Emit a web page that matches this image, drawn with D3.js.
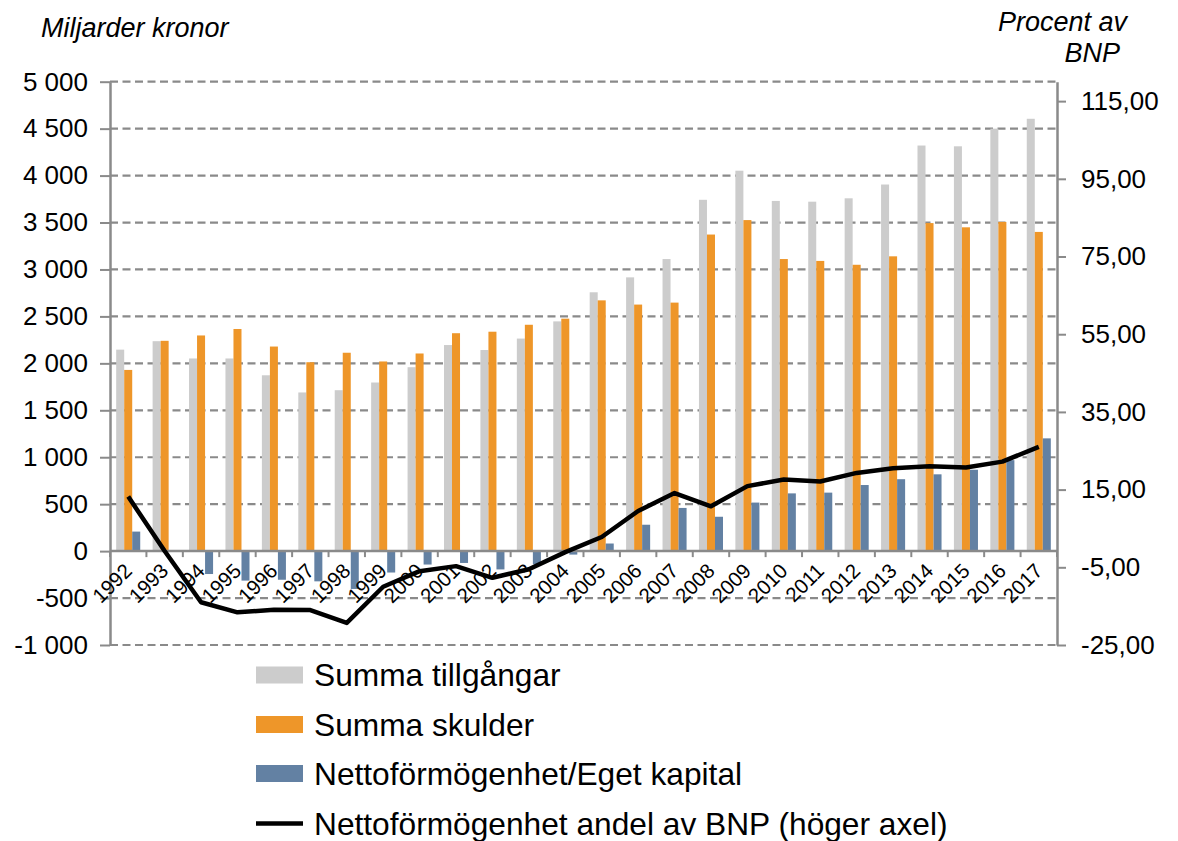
<!DOCTYPE html>
<html>
<head>
<meta charset="utf-8">
<script src="https://cdn.jsdelivr.net/npm/d3@7"></script>
<style>
  html, body { margin: 0; padding: 0; background: #fff; }
  svg { display: block; }
  text { font-family: "Liberation Sans", Arial, sans-serif; fill: #000; }
</style>
</head>
<body>
<svg id="chart" width="1178" height="841"></svg>
<script>
// ---- data ----
const years = ["1992","1993","1994","1995","1996","1997","1998","1999","2000","2001","2002","2003","2004",
               "2005","2006","2007","2008","2009","2010","2011","2012","2013","2014","2015","2016","2017"];
const assets = [2146, 2236, 2052, 2052, 1873, 1690, 1714, 1796, 1959, 2195, 2142, 2264, 2447,
                2757, 2916, 3111, 3742, 4052, 3730, 3722, 3758, 3905, 4320, 4312, 4500, 4605];
const liabilities = [1930, 2240, 2297, 2366, 2179, 2012, 2113, 2020, 2105, 2321, 2337, 2411, 2476,
                     2671, 2626, 2647, 3372, 3526, 3111, 3091, 3050, 3140, 3494, 3449, 3506, 3400];
const netWorth = [208, -5, -244, -314, -305, -322, -403, -228, -143, -126, -195, -140, -37,
                  81, 281, 460, 366, 517, 615, 623, 704, 766, 818, 867, 969, 1201];
const netShareGDP = [13.2, -0.8, -14.0, -16.6, -15.9, -16.0, -19.3, -10.0, -6.0, -4.7, -7.7, -5.5, -1.1,
                     2.8, 9.5, 14.1, 10.7, 15.9, 17.6, 17.1, 19.3, 20.5, 21.0, 20.7, 22.2, 26.0];
const leftTicks = [-1000, -500, 0, 500, 1000, 1500, 2000, 2500, 3000, 3500, 4000, 4500, 5000];
const rightTicks = [-25, -5, 15, 35, 55, 75, 95, 115];
const seriesNames = ["Summa tillgångar", "Summa skulder", "Nettoförmögenhet/Eget kapital",
                     "Nettoförmögenhet andel av BNP (höger axel)"];
const colors = ["#cccccc", "#ee9629", "#6381a3", "#000000"];
const leftTitle = "Miljarder kronor";
const rightTitle = ["Procent av", "BNP"];

// ---- layout ----
const plotLeft = 110, plotRight = 1057, plotTop = 81.7, plotBottom = 645;
const svg = d3.select("#chart");
svg.append("rect").attr("width", 1178).attr("height", 841).attr("fill", "#fff");

const x0 = d3.scaleBand().domain(years).range([plotLeft, plotRight]).paddingInner(0.34).paddingOuter(0.17);
const x1 = d3.scaleBand().domain([0, 1, 2]).range([0, x0.bandwidth()]);
const yL = d3.scaleLinear().domain([-1000, 5000]).range([plotBottom, plotTop]);
const yR = d3.scaleLinear().domain([-25, 120]).range([plotBottom, plotTop]);
const gridColor = "#8a8a8a";

// gridlines
svg.append("g").selectAll("line").data(leftTicks.filter(d => d !== 0)).join("line")
  .attr("x1", plotLeft).attr("x2", plotRight)
  .attr("y1", d => yL(d)).attr("y2", d => yL(d))
  .attr("stroke", gridColor).attr("stroke-width", 2.2).attr("stroke-dasharray", "8,4.5");

// bars
const seriesVals = [assets, liabilities, netWorth];
const barG = svg.append("g");
seriesVals.forEach((vals, si) => {
  barG.append("g").selectAll("rect").data(vals).join("rect")
    .attr("x", (d, i) => x0(years[i]) + x1(si))
    .attr("width", x1.bandwidth())
    .attr("y", d => yL(Math.max(0, d)))
    .attr("height", d => Math.abs(yL(d) - yL(0)))
    .attr("fill", colors[si]);
});

// left axis
const fmtL = d => (d < 0 ? "-" : "") + d3.format(",")(Math.abs(d)).replace(/,/g, " ");
const axL = svg.append("g").attr("transform", `translate(${plotLeft},0)`)
  .call(d3.axisLeft(yL).tickValues(leftTicks).tickFormat(fmtL).tickSizeInner(10).tickSizeOuter(0).tickPadding(12));
axL.select(".domain").attr("stroke", gridColor).attr("stroke-width", 2.5);
axL.selectAll(".tick line").attr("stroke", gridColor).attr("stroke-width", 2);
axL.selectAll(".tick text").attr("font-size", 26).attr("font-family", "Liberation Sans, Arial, sans-serif").attr("fill", "#000");

// right axis
const fmtR = d => d.toFixed(2).replace(".", ",");
const axR = svg.append("g").attr("transform", `translate(${plotRight},0)`)
  .call(d3.axisRight(yR).tickValues(rightTicks).tickFormat(fmtR).tickSizeInner(9).tickSizeOuter(0).tickPadding(15));
axR.select(".domain").attr("stroke", gridColor).attr("stroke-width", 2.5);
axR.selectAll(".tick line").attr("stroke", gridColor).attr("stroke-width", 2);
axR.selectAll(".tick text").attr("font-size", 26).attr("font-family", "Liberation Sans, Arial, sans-serif").attr("fill", "#000");

// category axis (zero line) with boundary ticks
const halfGap = (x0.step() - x0.bandwidth()) / 2;
const boundaries = years.map(y => x0(y) - halfGap).concat([x0(years[years.length - 1]) + x0.bandwidth() + halfGap]);
svg.append("line").attr("x1", plotLeft).attr("x2", plotRight)
  .attr("y1", yL(0)).attr("y2", yL(0)).attr("stroke", gridColor).attr("stroke-width", 2.5);
svg.append("g").selectAll("line").data(boundaries).join("line")
  .attr("x1", d => d).attr("x2", d => d)
  .attr("y1", yL(0)).attr("y2", yL(0) + 6)
  .attr("stroke", gridColor).attr("stroke-width", 2);

// category labels
svg.append("g").selectAll("text").data(years).join("text")
  .attr("transform", d => `translate(${x0(d) + x0.bandwidth() / 2 + 5},${yL(0) + 21}) rotate(-45)`)
  .attr("text-anchor", "end").attr("font-size", 20.5).text(d => d);

// line on right axis
const line = d3.line().x((d, i) => x0(years[i]) + x0.bandwidth() / 2).y(d => yR(d));
svg.append("path").datum(netShareGDP).attr("d", line)
  .attr("fill", "none").attr("stroke", colors[3]).attr("stroke-width", 4.5).attr("stroke-linejoin", "round");

// axis titles
svg.append("text").attr("x", 41).attr("y", 36.7).attr("font-size", 27).attr("font-style", "italic").text(leftTitle);
svg.append("text").attr("x", 1127).attr("y", 31).attr("text-anchor", "end").attr("font-size", 27).attr("font-style", "italic").text(rightTitle[0]);
svg.append("text").attr("x", 1120).attr("y", 61.7).attr("text-anchor", "end").attr("font-size", 27).attr("font-style", "italic").text(rightTitle[1]);

// legend
const legRows = [675, 724.5, 773.5, 823.5];
const leg = svg.append("g");
seriesNames.forEach((name, i) => {
  if (i < 3) {
    leg.append("rect").attr("x", 256).attr("y", legRows[i] - 8.5).attr("width", 47).attr("height", 17).attr("fill", colors[i]);
  } else {
    leg.append("line").attr("x1", 256).attr("x2", 303).attr("y1", legRows[i]).attr("y2", legRows[i])
      .attr("stroke", colors[i]).attr("stroke-width", 4.5);
  }
  leg.append("text").attr("x", 314).attr("y", legRows[i] + 11).attr("font-size", 31.7).text(name);
});
</script>
</body>
</html>
